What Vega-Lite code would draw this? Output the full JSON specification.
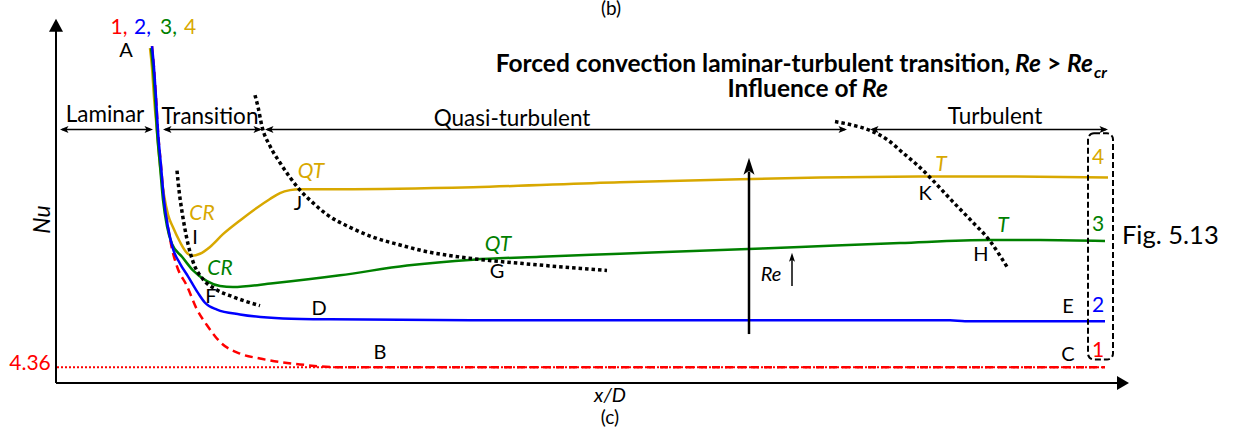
{
  "$schema": "https://vega.github.io/schema/vega-lite/v6.json",
  "width": 1233,
  "height": 430,
  "padding": 0,
  "autosize": {"type": "fit", "contains": "padding"},
  "background": "white",
  "config": {"view": {"stroke": null}, "font": "Lato"},
  "datasets": {
    "limit": [{"x": 0.1, "nu": 1.6}, {"x": 104.9, "nu": 1.6}],
    "laminar": [
      {"x": 9.6, "nu": 34.4}, {"x": 9.8, "nu": 32.2}, {"x": 10.0, "nu": 29.2}, {"x": 10.2, "nu": 25.7},
      {"x": 10.5, "nu": 22.2}, {"x": 10.8, "nu": 18.7}, {"x": 11.2, "nu": 15.9}, {"x": 11.6, "nu": 13.7},
      {"x": 12.1, "nu": 11.9}, {"x": 13.1, "nu": 9.9}, {"x": 14.1, "nu": 7.5}, {"x": 15.1, "nu": 5.9},
      {"x": 16.4, "nu": 4.2}, {"x": 18.4, "nu": 3.0}, {"x": 20.4, "nu": 2.5}, {"x": 24.4, "nu": 1.9},
      {"x": 28.4, "nu": 1.6}, {"x": 104.9, "nu": 1.6}
    ],
    "curves": [
      {"s": "4", "x": 9.4, "nu": 34.2}, {"s": "4", "x": 9.6, "nu": 32.2}, {"s": "4", "x": 9.8, "nu": 29.2},
      {"s": "4", "x": 10.1, "nu": 25.7}, {"s": "4", "x": 10.4, "nu": 22.2}, {"s": "4", "x": 10.8, "nu": 19.2},
      {"s": "4", "x": 11.2, "nu": 17.2}, {"s": "4", "x": 11.7, "nu": 15.9}, {"s": "4", "x": 12.4, "nu": 14.4},
      {"s": "4", "x": 13.0, "nu": 13.4}, {"s": "4", "x": 13.6, "nu": 13.0}, {"s": "4", "x": 14.4, "nu": 13.2},
      {"s": "4", "x": 15.4, "nu": 13.9}, {"s": "4", "x": 16.7, "nu": 15.2}, {"s": "4", "x": 18.4, "nu": 16.6},
      {"s": "4", "x": 20.1, "nu": 17.9}, {"s": "4", "x": 21.4, "nu": 18.8}, {"s": "4", "x": 22.4, "nu": 19.4},
      {"s": "4", "x": 23.4, "nu": 19.7}, {"s": "4", "x": 24.4, "nu": 19.8}, {"s": "4", "x": 28.4, "nu": 19.8},
      {"s": "4", "x": 41.7, "nu": 20.0}, {"s": "4", "x": 56.4, "nu": 20.5}, {"s": "4", "x": 64.4, "nu": 20.7},
      {"s": "4", "x": 76.4, "nu": 21.0}, {"s": "4", "x": 87.4, "nu": 21.1}, {"s": "4", "x": 94.4, "nu": 21.1},
      {"s": "4", "x": 105.2, "nu": 21.0},
      {"s": "3", "x": 9.5, "nu": 34.2}, {"s": "3", "x": 9.7, "nu": 32.2}, {"s": "3", "x": 9.9, "nu": 29.2},
      {"s": "3", "x": 10.1, "nu": 25.7}, {"s": "3", "x": 10.4, "nu": 22.2}, {"s": "3", "x": 10.7, "nu": 18.7},
      {"s": "3", "x": 11.1, "nu": 16.0}, {"s": "3", "x": 11.6, "nu": 14.2}, {"s": "3", "x": 12.6, "nu": 12.9},
      {"s": "3", "x": 13.7, "nu": 11.5}, {"s": "3", "x": 15.1, "nu": 10.4}, {"s": "3", "x": 16.4, "nu": 9.9},
      {"s": "3", "x": 17.7, "nu": 9.8}, {"s": "3", "x": 21.7, "nu": 10.2}, {"s": "3", "x": 28.4, "nu": 11.0},
      {"s": "3", "x": 35.1, "nu": 12.0}, {"s": "3", "x": 41.7, "nu": 12.6}, {"s": "3", "x": 48.4, "nu": 12.9},
      {"s": "3", "x": 56.4, "nu": 13.2}, {"s": "3", "x": 64.4, "nu": 13.5}, {"s": "3", "x": 74.4, "nu": 13.9},
      {"s": "3", "x": 84.4, "nu": 14.3}, {"s": "3", "x": 93.4, "nu": 14.6}, {"s": "3", "x": 98.4, "nu": 14.6},
      {"s": "3", "x": 104.9, "nu": 14.5},
      {"s": "2", "x": 9.6, "nu": 34.4}, {"s": "2", "x": 9.8, "nu": 32.2}, {"s": "2", "x": 10.0, "nu": 29.2},
      {"s": "2", "x": 10.2, "nu": 25.7}, {"s": "2", "x": 10.5, "nu": 22.2}, {"s": "2", "x": 10.8, "nu": 18.7},
      {"s": "2", "x": 11.2, "nu": 15.9}, {"s": "2", "x": 11.7, "nu": 13.7}, {"s": "2", "x": 12.4, "nu": 12.2},
      {"s": "2", "x": 13.2, "nu": 10.9}, {"s": "2", "x": 14.2, "nu": 9.2}, {"s": "2", "x": 14.9, "nu": 8.2},
      {"s": "2", "x": 16.1, "nu": 7.5}, {"s": "2", "x": 18.4, "nu": 7.0}, {"s": "2", "x": 22.7, "nu": 6.6},
      {"s": "2", "x": 27.4, "nu": 6.5}, {"s": "2", "x": 44.4, "nu": 6.4}, {"s": "2", "x": 69.4, "nu": 6.4},
      {"s": "2", "x": 89.4, "nu": 6.4}, {"s": "2", "x": 90.9, "nu": 6.3}, {"s": "2", "x": 104.9, "nu": 6.3}
    ],
    "bounds": [
      {"b": "CR", "x": 12.1, "nu": 21.7}, {"b": "CR", "x": 12.3, "nu": 19.7}, {"b": "CR", "x": 12.6, "nu": 17.5},
      {"b": "CR", "x": 12.9, "nu": 15.7}, {"b": "CR", "x": 13.2, "nu": 14.2}, {"b": "CR", "x": 13.7, "nu": 12.4},
      {"b": "CR", "x": 14.7, "nu": 10.6}, {"b": "CR", "x": 16.1, "nu": 9.5}, {"b": "CR", "x": 17.7, "nu": 8.8},
      {"b": "CR", "x": 20.4, "nu": 7.9},
      {"b": "QT", "x": 19.9, "nu": 29.4}, {"b": "QT", "x": 20.2, "nu": 28.2}, {"b": "QT", "x": 20.6, "nu": 26.2},
      {"b": "QT", "x": 21.4, "nu": 24.2}, {"b": "QT", "x": 22.4, "nu": 22.5}, {"b": "QT", "x": 23.4, "nu": 21.0},
      {"b": "QT", "x": 24.4, "nu": 19.7}, {"b": "QT", "x": 25.7, "nu": 18.4}, {"b": "QT", "x": 27.1, "nu": 17.2},
      {"b": "QT", "x": 29.4, "nu": 15.9}, {"b": "QT", "x": 31.7, "nu": 14.9}, {"b": "QT", "x": 34.4, "nu": 14.1},
      {"b": "QT", "x": 36.7, "nu": 13.5}, {"b": "QT", "x": 41.7, "nu": 12.7}, {"b": "QT", "x": 46.7, "nu": 12.2},
      {"b": "QT", "x": 55.1, "nu": 11.5},
      {"b": "T", "x": 77.9, "nu": 26.7}, {"b": "T", "x": 79.4, "nu": 26.4}, {"b": "T", "x": 81.4, "nu": 25.8},
      {"b": "T", "x": 83.2, "nu": 24.8}, {"b": "T", "x": 84.7, "nu": 23.5}, {"b": "T", "x": 86.2, "nu": 22.2},
      {"b": "T", "x": 87.4, "nu": 21.0}, {"b": "T", "x": 88.6, "nu": 19.7}, {"b": "T", "x": 89.7, "nu": 18.5},
      {"b": "T", "x": 91.6, "nu": 16.5}, {"b": "T", "x": 93.4, "nu": 14.5}, {"b": "T", "x": 94.4, "nu": 13.0},
      {"b": "T", "x": 95.2, "nu": 11.7}
    ],
    "axes": [
      {"x": 0, "nu": 0, "x2": 0, "nu2": 36.0},
      {"x": 0, "nu": 0, "x2": 106.1, "nu2": 0}
    ],
    "spans": [
      {"x": 0.6, "nu": 25.9, "x2": 9.4, "nu2": 25.9},
      {"x": 10.9, "nu": 25.9, "x2": 20.4, "nu2": 25.9},
      {"x": 21.1, "nu": 25.9, "x2": 78.9, "nu2": 25.9},
      {"x": 81.6, "nu": 25.9, "x2": 105.0, "nu2": 25.9},
      {"x": 73.6, "nu": 9.9, "x2": 73.6, "nu2": 12.7}
    ],
    "reArrow": [{"x": 69.3, "nu": 5.0, "x2": 69.3, "nu2": 21.6}],
    "heads": [
      {"x": 0, "nu": 37.2, "dir": "up"},
      {"x": 107.3, "nu": 0, "dir": "right"},
      {"x": 0.4, "nu": 25.9, "dir": "left-s"},
      {"x": 9.7, "nu": 25.9, "dir": "right-s"},
      {"x": 10.7, "nu": 25.9, "dir": "left-s"},
      {"x": 20.6, "nu": 25.9, "dir": "right-s"},
      {"x": 20.9, "nu": 25.9, "dir": "left-s"},
      {"x": 79.1, "nu": 25.9, "dir": "right-s"},
      {"x": 81.4, "nu": 25.9, "dir": "left-s"},
      {"x": 105.2, "nu": 25.9, "dir": "right-s"},
      {"x": 69.3, "nu": 23.0, "dir": "up-notch"},
      {"x": 73.6, "nu": 13.3, "dir": "up-s"}
    ],
    "box": [{"x": 103.2, "x2": 105.7, "nu": 2.4, "nu2": 25.5}],
    "regions": [
      {"x": 4.9, "nu": 26.7, "label": "Laminar"},
      {"x": 15.4, "nu": 26.5, "label": "Transition"},
      {"x": 45.6, "nu": 26.3, "label": "Quasi-turbulent"},
      {"x": 93.9, "nu": 26.5, "label": "Turbulent"}
    ],
    "panels": [
      {"x": 55.4, "nu": -4.2, "label": "(c)"},
      {"x": 55.5, "nu": 37.6, "label": "(b)"}
    ],
    "points": [
      {"x": 7.0, "nu": 33.3, "label": "A"},
      {"x": 13.9, "nu": 14.2, "label": "I"},
      {"x": 15.5, "nu": 8.2, "label": "F"},
      {"x": 26.3, "nu": 6.9, "label": "D"},
      {"x": 24.2, "nu": 17.7, "label": "J"},
      {"x": 44.1, "nu": 10.7, "label": "G"},
      {"x": 32.4, "nu": 2.5, "label": "B"},
      {"x": 86.9, "nu": 18.7, "label": "K"},
      {"x": 92.5, "nu": 12.5, "label": "H"},
      {"x": 101.2, "nu": 7.2, "label": "E"},
      {"x": 101.2, "nu": 2.2, "label": "C"}
    ],
    "curveLabels": [
      {"s": "4", "x": 14.6, "nu": 16.6, "label": "CR"},
      {"s": "3", "x": 16.4, "nu": 11.0, "label": "CR"},
      {"s": "4", "x": 25.5, "nu": 20.9, "label": "QT"},
      {"s": "3", "x": 44.2, "nu": 13.5, "label": "QT"},
      {"s": "4", "x": 88.5, "nu": 21.7, "label": "T"},
      {"s": "3", "x": 94.7, "nu": 15.4, "label": "T"}
    ],
    "digits": [
      {"s": "1", "x": 6.3, "nu": 35.6, "label": "1,"},
      {"s": "2", "x": 8.65, "nu": 35.6, "label": "2,"},
      {"s": "3", "x": 11.25, "nu": 35.6, "label": "3,"},
      {"s": "4", "x": 13.4, "nu": 35.6, "label": "4"},
      {"s": "4", "x": 104.2, "nu": 22.4, "label": "4"},
      {"s": "3", "x": 104.2, "nu": 15.5, "label": "3"},
      {"s": "2", "x": 104.2, "nu": 7.3, "label": "2"},
      {"s": "1", "x": 104.2, "nu": 2.7, "label": "1"},
      {"s": "1", "x": -2.6, "nu": 1.3, "label": "4.36"}
    ],
    "italics": [
      {"x": 55.4, "nu": -1.9, "label": "x/D"},
      {"x": 71.5, "nu": 10.4, "label": "Re"}
    ],
    "yTitle": [{"x": -0.6, "nu": 16.7, "label": "Nu"}],
    "fig": [{"x": 106.6, "nu": 14.2, "label": "Fig. 5.13"}],
    "titleBold": [
      {"x": 95.4, "nu": 31.8, "label": "Forced convection laminar-turbulent transition,"},
      {"x": 80.1, "nu": 29.2, "label": "Influence of"}
    ],
    "titleGt": [{"x": 99.1, "nu": 31.8, "label": ">"}],
    "titleItalic": [
      {"x": 95.9, "nu": 31.8, "label": "Re"},
      {"x": 101.1, "nu": 31.8, "label": "Re"},
      {"x": 80.6, "nu": 29.2, "label": "Re"}
    ],
    "titleSub": [{"x": 103.8, "nu": 31.2, "label": "cr"}]
  },
  "encoding": {
    "x": {"field": "x", "type": "quantitative", "scale": {"domain": [-5.6, 117.7], "nice": false, "zero": false}, "axis": null},
    "y": {"field": "nu", "type": "quantitative", "scale": {"domain": [-4.8, 38.2], "nice": false, "zero": false}, "axis": null}
  },
  "layer": [
    {"data": {"name": "limit"}, "mark": {"type": "line", "color": "#ff0000", "strokeWidth": 2, "strokeDash": [2, 2]}, "encoding": {}},
    {"data": {"name": "laminar"}, "mark": {"type": "line", "color": "#ff0000", "strokeWidth": 2.5, "strokeDash": [8, 5], "interpolate": "monotone"}, "encoding": {}},
    {"data": {"name": "curves"}, "mark": {"type": "line", "strokeWidth": 2.5, "interpolate": "monotone"},
     "encoding": {"color": {"field": "s", "type": "nominal", "legend": null, "scale": {"domain": ["1", "2", "3", "4"], "range": ["#ff0000", "#0000ff", "#008000", "#d8a800"]}}}},
    {"data": {"name": "bounds"}, "mark": {"type": "line", "color": "black", "strokeWidth": 3.5, "strokeDash": [3.5, 3], "interpolate": "monotone"},
     "encoding": {"detail": {"field": "b", "type": "nominal"}}},
    {"data": {"name": "axes"}, "mark": {"type": "rule", "color": "black", "strokeWidth": 2},
     "encoding": {"x2": {"field": "x2"}, "y2": {"field": "nu2"}}},
    {"data": {"name": "spans"}, "mark": {"type": "rule", "color": "black", "strokeWidth": 1.5},
     "encoding": {"x2": {"field": "x2"}, "y2": {"field": "nu2"}}},
    {"data": {"name": "reArrow"}, "mark": {"type": "rule", "color": "black", "strokeWidth": 2.5},
     "encoding": {"x2": {"field": "x2"}, "y2": {"field": "nu2"}}},
    {"data": {"name": "heads"}, "mark": {"type": "point", "filled": true, "size": 400, "color": "black", "opacity": 1, "strokeWidth": 0},
     "encoding": {"shape": {"field": "dir", "type": "nominal", "legend": null,
       "scale": {"domain": ["up", "right", "left-s", "right-s", "up-notch", "up-s"],
                 "range": ["M0,0L0.7,1.3L-0.7,1.3Z", "M0,0L-1.2,-0.7L-1.2,0.7Z", "M0,0L0.85,-0.35L0.65,0L0.85,0.35Z", "M0,0L-0.85,-0.35L-0.65,0L-0.85,0.35Z", "M0,0L0.55,1.7L0,1.3L-0.55,1.7Z", "M0,0L0.3,0.9L0,0.7L-0.3,0.9Z"]}}}},
    {"data": {"name": "box"}, "mark": {"type": "rect", "filled": false, "stroke": "black", "strokeWidth": 2, "strokeDash": [6, 3], "cornerRadius": 6},
     "encoding": {"x2": {"field": "x2"}, "y2": {"field": "nu2"}}},
    {"data": {"name": "regions"}, "mark": {"type": "text", "font": "Lato", "fontSize": 22.5, "color": "black", "align": "center", "baseline": "alphabetic"},
     "encoding": {"text": {"field": "label"}}},
    {"data": {"name": "panels"}, "mark": {"type": "text", "font": "Lato", "fontSize": 19, "color": "black", "align": "center", "baseline": "alphabetic"},
     "encoding": {"text": {"field": "label"}}},
    {"data": {"name": "points"}, "mark": {"type": "text", "font": "Lato", "fontSize": 20, "color": "black", "align": "center", "baseline": "alphabetic"},
     "encoding": {"text": {"field": "label"}}},
    {"data": {"name": "curveLabels"}, "mark": {"type": "text", "font": "Lato", "fontSize": 21, "fontStyle": "italic", "align": "center", "baseline": "alphabetic"},
     "encoding": {"text": {"field": "label"}, "color": {"field": "s", "type": "nominal", "legend": null, "scale": {"domain": ["1", "2", "3", "4"], "range": ["#ff0000", "#0000ff", "#008000", "#d8a800"]}}}},
    {"data": {"name": "digits"}, "mark": {"type": "text", "font": "Lato", "fontSize": 21, "align": "center", "baseline": "alphabetic"},
     "encoding": {"text": {"field": "label"}, "color": {"field": "s", "type": "nominal", "legend": null, "scale": {"domain": ["1", "2", "3", "4"], "range": ["#ff0000", "#0000ff", "#008000", "#d8a800"]}}}},
    {"data": {"name": "italics"}, "mark": {"type": "text", "font": "Lato", "fontSize": 20, "fontStyle": "italic", "color": "black", "align": "center", "baseline": "alphabetic"},
     "encoding": {"text": {"field": "label"}}},
    {"data": {"name": "yTitle"}, "mark": {"type": "text", "font": "Lato", "fontSize": 23, "fontStyle": "italic", "color": "black", "align": "center", "baseline": "alphabetic", "angle": 270},
     "encoding": {"text": {"field": "label"}}},
    {"data": {"name": "fig"}, "mark": {"type": "text", "font": "Lato", "fontSize": 25.5, "color": "black", "align": "left", "baseline": "alphabetic"},
     "encoding": {"text": {"field": "label"}}},
    {"data": {"name": "titleBold"}, "mark": {"type": "text", "font": "Lato", "fontSize": 24.5, "fontWeight": "bold", "color": "black", "align": "right", "baseline": "alphabetic"},
     "encoding": {"text": {"field": "label"}}},
    {"data": {"name": "titleGt"}, "mark": {"type": "text", "font": "Lato", "fontSize": 24.5, "fontWeight": "bold", "color": "black", "align": "left", "baseline": "alphabetic"},
     "encoding": {"text": {"field": "label"}}},
    {"data": {"name": "titleItalic"}, "mark": {"type": "text", "font": "Lato", "fontSize": 24.5, "fontWeight": "bold", "fontStyle": "italic", "color": "black", "align": "left", "baseline": "alphabetic"},
     "encoding": {"text": {"field": "label"}}},
    {"data": {"name": "titleSub"}, "mark": {"type": "text", "font": "Lato", "fontSize": 16, "fontWeight": "bold", "fontStyle": "italic", "color": "black", "align": "left", "baseline": "alphabetic"},
     "encoding": {"text": {"field": "label"}}}
  ]
}
